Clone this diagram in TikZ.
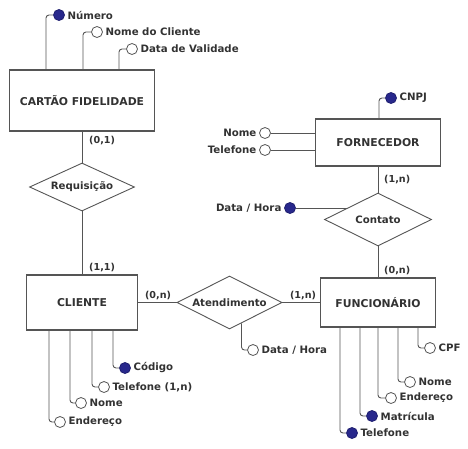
\documentclass[tikz,border=0pt]{standalone}
\usepackage{fontspec}
\setmainfont{DejaVu Sans}
\usetikzlibrary{shapes.geometric}
\definecolor{ink}{RGB}{50,50,50}
\definecolor{keyblue}{RGB}{40,40,140}
\definecolor{edge}{RGB}{85,85,85}
\begin{document}
\begin{tikzpicture}[x=1pt,y=-1pt,
  every node/.style={text=ink, font=\bfseries\fontsize{10.2}{11}\selectfont},
  entity/.style={draw=edge, line width=1.1pt, rectangle, inner sep=0pt, font=\bfseries\fontsize{10.8}{12}\selectfont},
  rel/.style={draw=edge, line width=0.9pt, diamond, inner sep=0pt},
  attr/.style={circle, draw=edge, line width=0.8pt, fill=white, minimum size=11pt, inner sep=0pt},
  keyattr/.style={attr, draw=keyblue!80!black, fill=keyblue},
  conn/.style={draw=edge, line width=0.9pt, rounded corners=3pt},
  card/.style={inner sep=1pt, font=\bfseries\fontsize{9.6}{11}\selectfont},
  rtxt/.style={label={[label distance=0pt, inner sep=2.5pt]right:#1}},
  ltxt/.style={label={[label distance=0pt, inner sep=2.5pt]left:#1}}
]
\useasboundingbox (0,0) rectangle (468,448);

% entities
\node[entity, minimum width=145pt, minimum height=61pt] (cartao) at (82,100.5) {CARTÃO FIDELIDADE};
\node[entity, minimum width=111pt, minimum height=55pt] (cliente) at (82,302.5) {CLIENTE};
\node[entity, minimum width=125pt, minimum height=47pt] (forn) at (378,142.5) {FORNECEDOR};
\node[entity, minimum width=115pt, minimum height=49pt] (func) at (378,302.5) {FUNCIONÁRIO};

% relationships
\node[rel, minimum width=105pt, minimum height=48pt, label=center:{Requisição}] (req) at (82,187) {};
\node[rel, minimum width=105pt, minimum height=53pt, label=center:{Atendimento}] (aten) at (229.5,302.5) {};
\node[rel, minimum width=107pt, minimum height=53pt, label=center:{Contato}] (cont) at (378,219.5) {};

% relationship links
\draw[conn] (cartao) -- (req);
\draw[conn] (req) -- (cliente);
\draw[conn] (cliente) -- (aten);
\draw[conn] (aten) -- (func);
\draw[conn] (forn) -- (cont);
\draw[conn] (cont) -- (func);

% cardinalities
\node[card, anchor=west] (c01) at (88,141) {(0,1)};
\node[card, anchor=west] (c11) at (88,268) {(1,1)};
\node[card, anchor=south] (c0n) at (158,301) {(0,n)};
\node[card, anchor=south] (c1n) at (303,301) {(1,n)};
\node[card, anchor=west] (c1nf) at (383,180) {(1,n)};
\node[card, anchor=west] (c0nf) at (383,271) {(0,n)};

% CARTAO attributes
\node[keyattr, rtxt=Número] (numero) at (59,15) {};
\node[attr, rtxt=Nome do Cliente] (nomecli) at (97,32) {};
\node[attr, rtxt=Data de Validade] (validade) at (132,49) {};
\draw[conn] ([xshift=-36pt]cartao.north) |- (numero);
\draw[conn] ([xshift=1pt]cartao.north) |- (nomecli);
\draw[conn] ([xshift=37pt]cartao.north) |- (validade);

% CLIENTE attributes
\node[keyattr, rtxt=Código] (codigo) at (125,368) {};
\node[attr, rtxt={Telefone (1,n)}] (telcli) at (104,387) {};
\node[attr, rtxt=Nome] (nomec) at (81,403) {};
\node[attr, rtxt=Endereço] (endc) at (60,422) {};
\draw[conn] ([xshift=31pt]cliente.south) |- (codigo);
\draw[conn] ([xshift=10pt]cliente.south) |- (telcli);
\draw[conn] ([xshift=-12pt]cliente.south) |- (nomec);
\draw[conn] ([xshift=-33pt]cliente.south) |- (endc);

% Atendimento attribute
\node[attr, rtxt={Data / Hora}] (dhaten) at (253,350) {};
\draw[conn] (aten.-60) |- (dhaten);

% FORNECEDOR attributes
\node[keyattr, rtxt=CNPJ] (cnpj) at (391,98) {};
\node[attr, ltxt=Nome] (nomef) at (265,133) {};
\node[attr, ltxt=Telefone] (telf) at (265,150) {};
\draw[conn] ([xshift=1pt]forn.north) |- (cnpj);
\draw[conn] (nomef) -- (nomef -| forn.west);
\draw[conn] (telf) -- (telf -| forn.west);

% Contato attribute
\node[keyattr, ltxt={Data / Hora}] (dhcont) at (290,208) {};
\draw[conn] (dhcont) -- (dhcont -| cont.159);

% FUNCIONARIO attributes
\node[keyattr, rtxt=Telefone] (telfu) at (352,433) {};
\node[keyattr, rtxt=Matrícula] (matr) at (372,416) {};
\node[attr, rtxt=Endereço] (endfu) at (391,398) {};
\node[attr, rtxt=Nome] (nomefu) at (410,382) {};
\node[attr, rtxt=CPF] (cpf) at (430,348) {};
\draw[conn] ([xshift=-38pt]func.south) |- (telfu);
\draw[conn] ([xshift=-18pt]func.south) |- (matr);
\draw[conn] ([xshift=0pt]func.south) |- (endfu);
\draw[conn] ([xshift=20pt]func.south) |- (nomefu);
\draw[conn] ([xshift=40pt]func.south) |- (cpf);
\end{tikzpicture}
\end{document}
